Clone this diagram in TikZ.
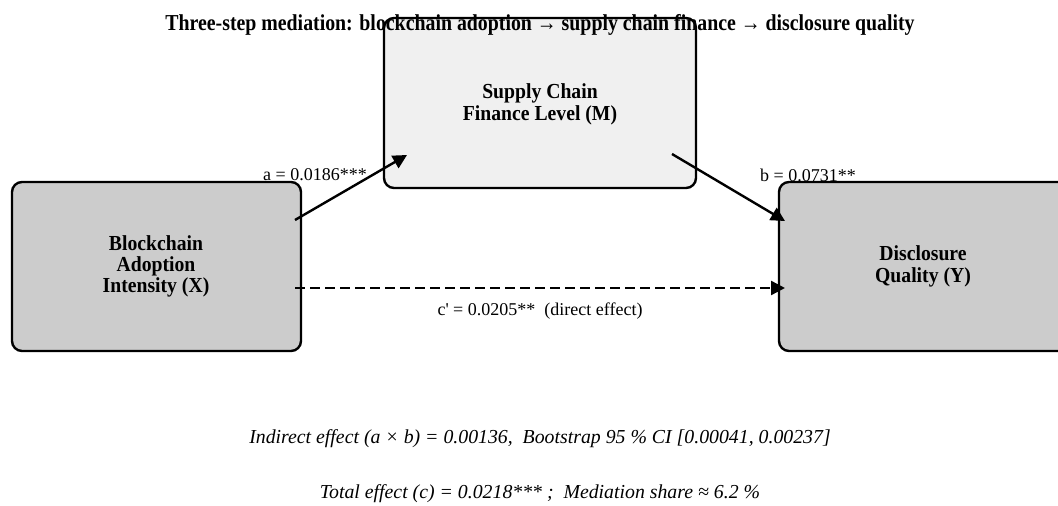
\documentclass[tikz,border=0pt]{standalone}
\usepackage{fontspec}
\setmainfont{Liberation Serif}
\newfontfamily\titlefont[FakeStretch=0.87]{Liberation Serif}
\newfontfamily\boxfont[FakeStretch=0.92]{Liberation Serif}
\usetikzlibrary{arrows.meta}
\begin{document}
\begin{tikzpicture}[x=1pt,y=-1pt,
  boxtext/.style={align=center,font=\boxfont\fontsize{21.4}{22}\selectfont\bfseries},
  conn/.style={line width=2.4pt,-{Triangle[length=14pt,width=14pt]}},
  lbl/.style={font=\fontsize{18}{20}\selectfont},
  note/.style={font=\fontsize{19.8}{22}\selectfont\itshape}]
\useasboundingbox (0,0) rectangle (1058,506);
\begin{scope}
\clip (0,0) rectangle (1058,506);
\draw[line width=2.4pt,rounded corners=10pt,fill=black!20] (779,182) rectangle (1070,351);
\end{scope}
\draw[line width=2.4pt,rounded corners=10pt,fill=black!6] (384,18) rectangle (696,188);
\draw[line width=2.4pt,rounded corners=10pt,fill=black!20] (12,182) rectangle (301,351);
\node[boxtext] (M) at (540,104.5) {Supply Chain\\Finance Level (M)};
\node[boxtext,font=\boxfont\fontsize{21.4}{21}\selectfont\bfseries] (X) at (156,266.5) {Blockchain\\Adoption\\Intensity (X)};
\node[boxtext] (Y) at (923,266.5) {Disclosure\\Quality (Y)};
\node[font=\titlefont\fontsize{22.8}{24}\selectfont\bfseries] (title) at (540,24.5) {Three-step mediation: blockchain adoption → supply chain finance → disclosure quality};
\coordinate (xa) at (295,220);
\coordinate (ma) at (407,155);
\coordinate (mb) at (672,154);
\coordinate (yb) at (785,221);
\coordinate (xc) at (295,288);
\coordinate (yc) at (785,288);
\draw[conn] (xa) -- (ma);
\draw[conn] (mb) -- (yb);
\draw[conn,dash pattern=on 10pt off 5pt] (xc) -- (yc);
\node[lbl] (la) at (315,175) {a = 0.0186***};
\node[lbl] (lb) at (808,175) {b = 0.0731**};
\node[lbl] (lc) at (540,311) {c\textquotesingle{} = 0.0205**\ \ (direct effect)};
\node[note] (n1) at (540,439) {Indirect effect (a × b) = 0.00136,\ \ Bootstrap 95 \% CI [0.00041, 0.00237]};
\node[note] (n2) at (540,494) {Total effect (c) = 0.0218*** ;\ \ Mediation share ≈ 6.2 \%};
\end{tikzpicture}
\end{document}
